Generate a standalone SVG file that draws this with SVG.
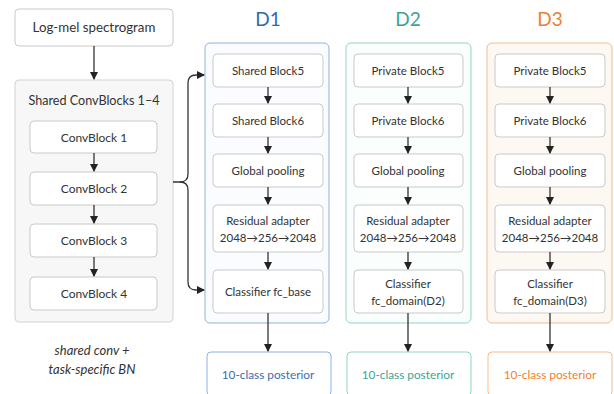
<svg xmlns="http://www.w3.org/2000/svg" width="614" height="394" viewBox="0 0 614 394">
<defs>
<marker id="ah" markerWidth="8" markerHeight="8" refX="7" refY="4" orient="auto" markerUnits="userSpaceOnUse">
<path d="M0,0 L8,4 L0,8 Z" fill="#222"/>
</marker>
<style>
text{font-family:Lato,"Open Sans","Liberation Sans",sans-serif;text-anchor:middle;fill:#333;}
.t{font-size:11.5px;}
.b{fill:#fff;stroke:#c9c9c9;stroke-width:1;}
.c{fill:none;stroke:#333;stroke-width:1.3;}
.h{font-size:19px;}
.cb{font-size:12px;}
.p{font-size:11.8px;}
</style>
</defs>
<rect width="614" height="394" fill="#fff"/>

<g id="logmel">
<rect x="15" y="9" width="158" height="37" rx="4" class="b"/>
<text x="94" y="32" style="font-size:13.3px">Log-mel spectrogram</text>
</g>

<g id="shared">
<rect x="15" y="80" width="158" height="242" rx="4" fill="#f7f7f7" stroke="#d2d2d2"/>
<text x="94" y="105" style="font-size:12.6px">Shared ConvBlocks 1–4</text>
</g>
<g id="cb1"><rect x="30" y="121" width="127" height="32" rx="4" class="b"/><text x="94" y="142" class="cb">ConvBlock 1</text></g>
<g id="cb2"><rect x="30" y="172" width="127" height="33" rx="4" class="b"/><text x="94" y="193" class="cb">ConvBlock 2</text></g>
<g id="cb3"><rect x="30" y="224" width="127" height="33" rx="4" class="b"/><text x="94" y="245" class="cb">ConvBlock 3</text></g>
<g id="cb4"><rect x="30" y="277" width="127" height="33" rx="4" class="b"/><text x="94" y="298" class="cb">ConvBlock 4</text></g>

<g id="note">
<text x="92" y="355" style="font-style:italic;font-size:13px">shared conv +</text>
<text x="92" y="374" style="font-style:italic;font-size:13px">task-specific BN</text>
</g>

<!-- D1 -->
<g id="D1">
<text x="268" y="26" class="h" style="fill:#2d6ab3">D1</text>
<rect x="205" y="43" width="124" height="280" rx="5" fill="#fafcff" stroke="#8fb2de"/>
</g>
<g id="d1b5"><rect x="213" y="54" width="110" height="33" rx="4" class="b"/><text x="268" y="75" class="t">Shared Block5</text></g>
<g id="d1b6"><rect x="213" y="104" width="110" height="33" rx="4" class="b"/><text x="268" y="125" class="t">Shared Block6</text></g>
<g id="d1gp"><rect x="213" y="154" width="110" height="33" rx="4" class="b"/><text x="268" y="175" class="t">Global pooling</text></g>
<g id="d1ra"><rect x="213" y="205" width="110" height="47" rx="4" class="b"/><text x="268" y="225" class="t">Residual adapter</text><text x="268" y="242" class="t">2048→256→2048</text></g>
<g id="d1cl"><rect x="213" y="270" width="110" height="43" rx="4" class="b"/><text x="268" y="296" class="t">Classifier fc_base</text></g>
<g id="d1post"><rect x="207" y="352" width="124" height="44" rx="4" fill="#fff" stroke="#8fb2de"/><text x="268" y="379" class="p" style="fill:#3a6db0">10-class posterior</text></g>

<!-- D2 -->
<g id="D2">
<text x="408" y="26" class="h" style="fill:#3aa596">D2</text>
<rect x="346" y="43" width="125" height="280" rx="5" fill="#fafefd" stroke="#92d3ca"/>
</g>
<g id="d2b5"><rect x="354" y="54" width="109" height="33" rx="4" class="b"/><text x="408" y="75" class="t">Private Block5</text></g>
<g id="d2b6"><rect x="354" y="104" width="109" height="33" rx="4" class="b"/><text x="408" y="125" class="t">Private Block6</text></g>
<g id="d2gp"><rect x="354" y="154" width="109" height="33" rx="4" class="b"/><text x="408" y="175" class="t">Global pooling</text></g>
<g id="d2ra"><rect x="354" y="205" width="109" height="47" rx="4" class="b"/><text x="408" y="225" class="t">Residual adapter</text><text x="408" y="242" class="t">2048→256→2048</text></g>
<g id="d2cl"><rect x="354" y="270" width="109" height="43" rx="4" class="b"/><text x="408" y="288" class="t">Classifier</text><text x="408" y="305" class="t">fc_domain(D2)</text></g>
<g id="d2post"><rect x="347" y="352" width="124" height="44" rx="4" fill="#fff" stroke="#92d3ca"/><text x="408" y="379" class="p" style="fill:#3aa596">10-class posterior</text></g>

<!-- D3 -->
<g id="D3">
<text x="550" y="26" class="h" style="fill:#ef7f2e">D3</text>
<rect x="487" y="43" width="125" height="280" rx="5" fill="#fef8f2" stroke="#f4bb8e"/>
</g>
<g id="d3b5"><rect x="495" y="54" width="110" height="33" rx="4" class="b"/><text x="550" y="75" class="t">Private Block5</text></g>
<g id="d3b6"><rect x="495" y="104" width="110" height="33" rx="4" class="b"/><text x="550" y="125" class="t">Private Block6</text></g>
<g id="d3gp"><rect x="495" y="154" width="110" height="33" rx="4" class="b"/><text x="550" y="175" class="t">Global pooling</text></g>
<g id="d3ra"><rect x="495" y="205" width="110" height="47" rx="4" class="b"/><text x="550" y="225" class="t">Residual adapter</text><text x="550" y="242" class="t">2048→256→2048</text></g>
<g id="d3cl"><rect x="495" y="270" width="110" height="43" rx="4" class="b"/><text x="550" y="288" class="t">Classifier</text><text x="550" y="305" class="t">fc_domain(D3)</text></g>
<g id="d3post"><rect x="488" y="352" width="124" height="44" rx="4" fill="#fff" stroke="#f4bb8e"/><text x="550" y="379" class="p" style="fill:#ef7f2e">10-class posterior</text></g>

<g id="connectors">
<line x1="94" y1="46" x2="94" y2="79" class="c" marker-end="url(#ah)"/>
<line x1="94" y1="153" x2="94" y2="171" class="c" marker-end="url(#ah)"/>
<line x1="94" y1="205" x2="94" y2="223" class="c" marker-end="url(#ah)"/>
<line x1="94" y1="257" x2="94" y2="276" class="c" marker-end="url(#ah)"/>
<path d="M173,182 L180,182 Q188,182 188,174 L188,83 Q188,75 196,75 L204,75" class="c" marker-end="url(#ah)"/>
<path d="M180,182 Q188,182 188,190 L188,282 Q188,290 196,290 L204,290" class="c" marker-end="url(#ah)"/>

<line x1="268" y1="87" x2="268" y2="103" class="c" marker-end="url(#ah)"/>
<line x1="268" y1="137" x2="268" y2="153" class="c" marker-end="url(#ah)"/>
<line x1="268" y1="187" x2="268" y2="204" class="c" marker-end="url(#ah)"/>
<line x1="268" y1="252" x2="268" y2="269" class="c" marker-end="url(#ah)"/>
<line x1="268" y1="313" x2="268" y2="351" class="c" marker-end="url(#ah)"/>

<line x1="408" y1="87" x2="408" y2="103" class="c" marker-end="url(#ah)"/>
<line x1="408" y1="137" x2="408" y2="153" class="c" marker-end="url(#ah)"/>
<line x1="408" y1="187" x2="408" y2="204" class="c" marker-end="url(#ah)"/>
<line x1="408" y1="252" x2="408" y2="269" class="c" marker-end="url(#ah)"/>
<line x1="408" y1="313" x2="408" y2="351" class="c" marker-end="url(#ah)"/>

<line x1="550" y1="87" x2="550" y2="103" class="c" marker-end="url(#ah)"/>
<line x1="550" y1="137" x2="550" y2="153" class="c" marker-end="url(#ah)"/>
<line x1="550" y1="187" x2="550" y2="204" class="c" marker-end="url(#ah)"/>
<line x1="550" y1="252" x2="550" y2="269" class="c" marker-end="url(#ah)"/>
<line x1="550" y1="313" x2="550" y2="351" class="c" marker-end="url(#ah)"/>
</g>
</svg>
